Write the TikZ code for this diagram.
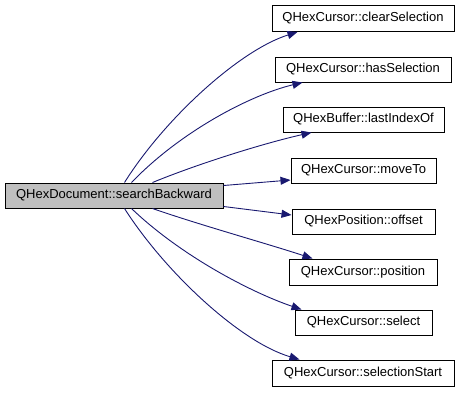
\documentclass[tikz,border=0pt]{standalone}
\usepackage{fontspec}
\setmainfont{Liberation Sans}
\usetikzlibrary{arrows.meta}
\definecolor{edgecol}{HTML}{191970}
\definecolor{mainfill}{HTML}{BFBFBF}
\begin{document}
\begin{tikzpicture}[x=1pt,y=-1pt,
  fn/.style={draw=black,line width=1pt,fill=white,inner sep=0pt,minimum height=25pt,font=\fontsize{13}{15}\selectfont},
  mainfn/.style={fn,fill=mainfill},
  call/.style={draw=edgecol,line width=0.9pt,-{Triangle[length=10pt,width=8pt]},fill=none}]
\useasboundingbox (0,0) rectangle (460,392);
\node[mainfn,minimum width=218pt] (main) at (114,195.5) {QHexDocument::searchBackward};
\node[fn,minimum width=182pt,minimum height=26pt] (cs) at (363,18.5) {QHexCursor::clearSelection};
\node[fn,minimum width=176pt] (hs) at (363,69.5) {QHexCursor::hasSelection};
\node[fn,minimum width=161pt] (li) at (363.5,119.5) {QHexBuffer::lastIndexOf};
\node[fn,minimum width=145pt] (mt) at (363.5,170.5) {QHexCursor::moveTo};
\node[fn,minimum width=143pt] (of) at (363.5,221.5) {QHexPosition::offset};
\node[fn,minimum width=148pt,minimum height=26pt] (pos) at (363,272) {QHexCursor::position};
\node[fn,minimum width=137pt] (sel) at (363.5,322.5) {QHexCursor::select};
\node[fn,minimum width=182pt,minimum height=26pt] (ss) at (363,373) {QHexCursor::selectionStart};
\draw[call] ([xshift=120pt]main.north west) .. controls (165,118) and (240,50) .. ([xshift=26pt]cs.south west);
\draw[call] ([xshift=127pt]main.north west) .. controls (180,132) and (250,95) .. ([xshift=28pt]hs.south west);
\draw[call] ([xshift=148pt]main.north west) .. controls (200,163) and (265,143) .. ([xshift=29pt]li.south west);
\draw[call] ([yshift=10pt]main.east) -- ([yshift=-9.5pt]mt.west);
\draw[call] ([yshift=-11pt]main.east) -- ([yshift=6.5pt]of.west);
\draw[call] ([xshift=148pt]main.south west) .. controls (200,225) and (265,243) .. ([xshift=24pt]pos.north west);
\draw[call] ([xshift=127pt]main.south west) .. controls (180,255) and (250,292) .. ([xshift=7pt]sel.north west);
\draw[call] ([xshift=120pt]main.south west) .. controls (165,272) and (240,342) .. ([xshift=28pt]ss.north west);
\end{tikzpicture}
\end{document}
